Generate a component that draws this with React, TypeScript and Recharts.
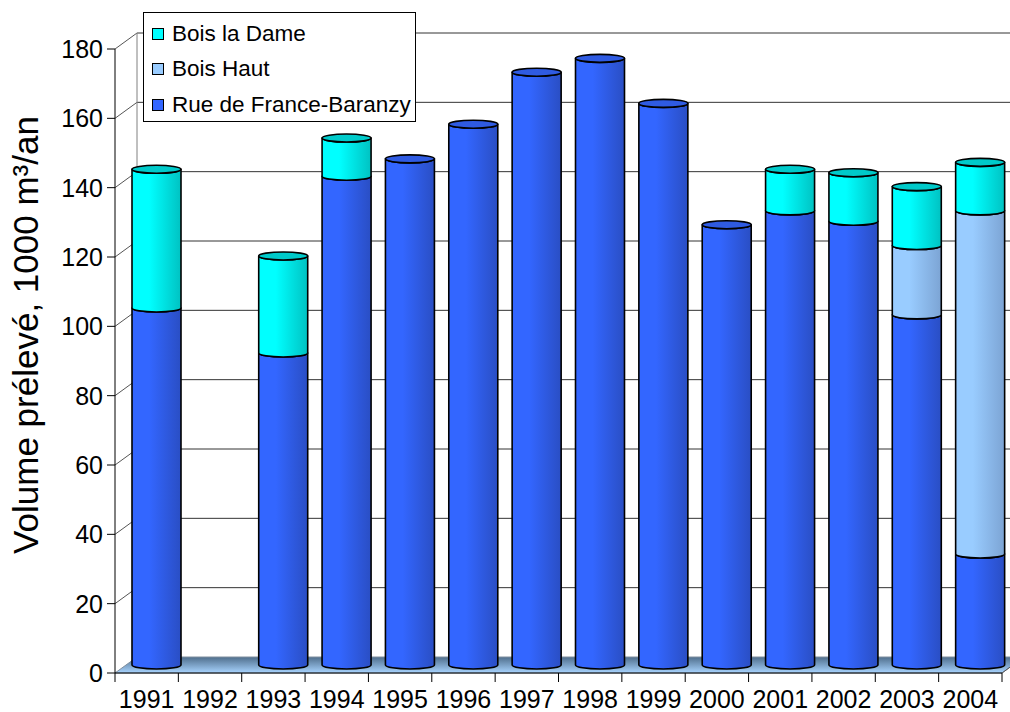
import React from 'react';
import { BarChart, Bar, XAxis, YAxis, CartesianGrid, Legend } from 'recharts';

// ---- data ----
const YEARS = ['1991', '1992', '1993', '1994', '1995', '1996', '1997', '1998', '1999', '2000', '2001', '2002', '2003', '2004'];
const RUE_DE_FRANCE = [103, null, 90, 141, 146, 156, 171, 175, 162, 127, 131, 128, 101, 32];
const BOIS_HAUT = [null, null, null, null, null, null, null, null, null, null, null, null, 20, 99];
const BOIS_LA_DAME = [40, null, 28, 11, null, null, null, null, null, null, 12, 14, 17, 14];
const Y_TICKS = [0, 20, 40, 60, 80, 100, 120, 140, 160, 180];

const data = YEARS.map((year, i) => ({
  year,
  rue: RUE_DE_FRANCE[i],
  haut: BOIS_HAUT[i],
  dame: BOIS_LA_DAME[i],
}));

// ---- layout ----
const W = 1010;
const H = 712;
const MARGIN = { top: 49, right: 8, left: 0, bottom: 0 };
const YAXIS_W = 115;
const XAXIS_H = 39;
const PLOT_LEFT = MARGIN.left + YAXIS_W;
const PLOT_RIGHT = W - MARGIN.right;
const PLOT_TOP = MARGIN.top;
const PLOT_BOTTOM = H - MARGIN.bottom - XAXIS_H;
const BAND = (PLOT_RIGHT - PLOT_LEFT) / YEARS.length;
const DEPTH_X = 22;
const DEPTH_Y = 16;
const BAR_DX = 10;
const BAR_DY = 8;
const CAP_RY = 4;
const FONT = '"Liberation Sans", Arial, Helvetica, sans-serif';

const SERIES = [
  { key: 'rue', name: 'Rue de France-Baranzy', light: '#3366FF', dark: '#2A4EC4', cap: '#2F5BE2' },
  { key: 'haut', name: 'Bois Haut', light: '#99CCFF', dark: '#7CA4D4', cap: '#88B6E6' },
  { key: 'dame', name: 'Bois la Dame', light: '#00FFFF', dark: '#00C2C2', cap: '#00CACA' },
];
const STACK_TOP_FIRST = ['dame', 'haut', 'rue'];

function makeShape(s) {
  return (props) => {
    const { x, y, width, height, payload } = props;
    const v = payload ? payload[s.key] : null;
    if (!v || !(height > 0)) return <g />;
    const lx = x + BAR_DX;
    const rx = lx + width;
    const ty = y - BAR_DY;
    const by = y + height - BAR_DY;
    const a = width / 2;
    const b = CAP_RY;
    const d = `M${lx},${ty} A${a},${b} 0 0 0 ${rx},${ty} L${rx},${by} A${a},${b} 0 0 1 ${lx},${by} Z`;
    const topKey = STACK_TOP_FIRST.find((k) => payload[k] > 0);
    return (
      <g>
        <path d={d} fill={`url(#grad-${s.key})`} stroke="#000" strokeWidth={1.6} strokeLinejoin="round" />
        {topKey === s.key && (
          <ellipse cx={lx + a} cy={ty} rx={a} ry={b} fill={s.cap} stroke="#000" strokeWidth={1.6} />
        )}
      </g>
    );
  };
}

const gridLine = (props) => {
  const { x1, x2, y1 } = props;
  const bx1 = x1 + DEPTH_X;
  const bx2 = x2 + DEPTH_X;
  const by = y1 - DEPTH_Y;
  if (Math.abs(y1 - PLOT_BOTTOM) < 1) {
    return (
      <g>
        <polygon
          points={`${x1},${y1} ${x2},${y1} ${bx2},${by} ${bx1},${by}`}
          fill="url(#floorGrad)"
          stroke="#7f8f9f"
          strokeWidth={1}
        />
        <line x1={x2} y1={y1} x2={bx2} y2={by} stroke="#555" strokeWidth={1} />
      </g>
    );
  }
  return (
    <g>
      <line x1={x1} y1={y1} x2={bx1} y2={by} stroke="#555" strokeWidth={1} />
      <line x1={bx1} y1={by} x2={bx2} y2={by} stroke="#333" strokeWidth={1} />
      {Math.abs(y1 - PLOT_TOP) < 1 && (
        <line x1={bx1} y1={by} x2={bx1} y2={PLOT_BOTTOM - DEPTH_Y} stroke="#808080" strokeWidth={1} />
      )}
    </g>
  );
};

const XTick = (props) => {
  const { x, y, payload, index } = props;
  return (
    <g>
      <line x1={x - BAND / 2} y1={y} x2={x - BAND / 2} y2={y + 9} stroke="#000" strokeWidth={1} />
      {index === YEARS.length - 1 && (
        <line x1={x + BAND / 2} y1={y} x2={x + BAND / 2} y2={y + 9} stroke="#000" strokeWidth={1} />
      )}
      <text x={x} y={y + 35} textAnchor="middle" fontSize={25} fill="#000" fontFamily={FONT}>
        {payload.value}
      </text>
    </g>
  );
};

const YTitle = () => (
  <text
    x={38}
    y={335}
    transform="rotate(-90, 38, 335)"
    textAnchor="middle"
    fontSize={35}
    fill="#000"
    fontFamily={FONT}
  >
    Volume prélevé, 1000 m³/an
  </text>
);

const LegendBox = () => (
  <div
    style={{
      width: 273,
      height: 110,
      boxSizing: 'border-box',
      border: '1px solid #000',
      background: '#fff',
      paddingTop: 3,
      fontFamily: FONT,
      fontSize: 22.5,
      color: '#000',
    }}
  >
    {[...SERIES].reverse().map((s) => (
      <div key={s.key} style={{ height: 35.5, display: 'flex', alignItems: 'center' }}>
        <div
          style={{
            width: 12,
            height: 12,
            boxSizing: 'border-box',
            border: '1px solid #000',
            background: s.light,
            marginLeft: 8,
            marginRight: 8,
          }}
        />
        <span style={{ whiteSpace: 'nowrap', lineHeight: 1 }}>{s.name}</span>
      </div>
    ))}
  </div>
);

export default function App() {
  return (
    <div style={{ position: 'absolute', left: 0, top: 0, width: W, height: H, background: '#fff' }}>
      <BarChart width={W} height={H} data={data} margin={MARGIN} barSize={49}>
        <defs>
          {SERIES.map((s) => (
            <linearGradient key={s.key} id={`grad-${s.key}`} x1="0" y1="0" x2="1" y2="0">
              <stop offset="0%" stopColor={s.light} />
              <stop offset="35%" stopColor={s.light} />
              <stop offset="100%" stopColor={s.dark} />
            </linearGradient>
          ))}
          <linearGradient id="floorGrad" x1="0" y1="0" x2="0" y2="1">
            <stop offset="0%" stopColor="#4F6E8C" />
            <stop offset="100%" stopColor="#A8D4FF" />
          </linearGradient>
        </defs>
        <CartesianGrid horizontal={gridLine} vertical={false} />
        <XAxis
          dataKey="year"
          height={XAXIS_H}
          interval={0}
          tickSize={0}
          tickMargin={0}
          tickLine={false}
          axisLine={{ stroke: '#000', strokeWidth: 1 }}
          tick={XTick}
        />
        <YAxis
          width={YAXIS_W}
          domain={[0, 180]}
          ticks={Y_TICKS}
          interval={0}
          tickSize={8}
          tickMargin={4}
          tickLine={{ stroke: '#000' }}
          axisLine={{ stroke: '#000', strokeWidth: 1 }}
          tick={{ fontSize: 25, fill: '#000', fontFamily: FONT }}
          label={YTitle}
        />
        <Legend
          layout="horizontal"
          verticalAlign="middle"
          align="center"
          content={LegendBox}
          wrapperStyle={{ left: 143, top: 12, width: 273, height: 110 }}
        />
        {SERIES.map((s) => (
          <Bar
            key={s.key}
            dataKey={s.key}
            name={s.name}
            stackId="a"
            fill={s.light}
            isAnimationActive={false}
            shape={makeShape(s)}
          />
        ))}
      </BarChart>
    </div>
  );
}
